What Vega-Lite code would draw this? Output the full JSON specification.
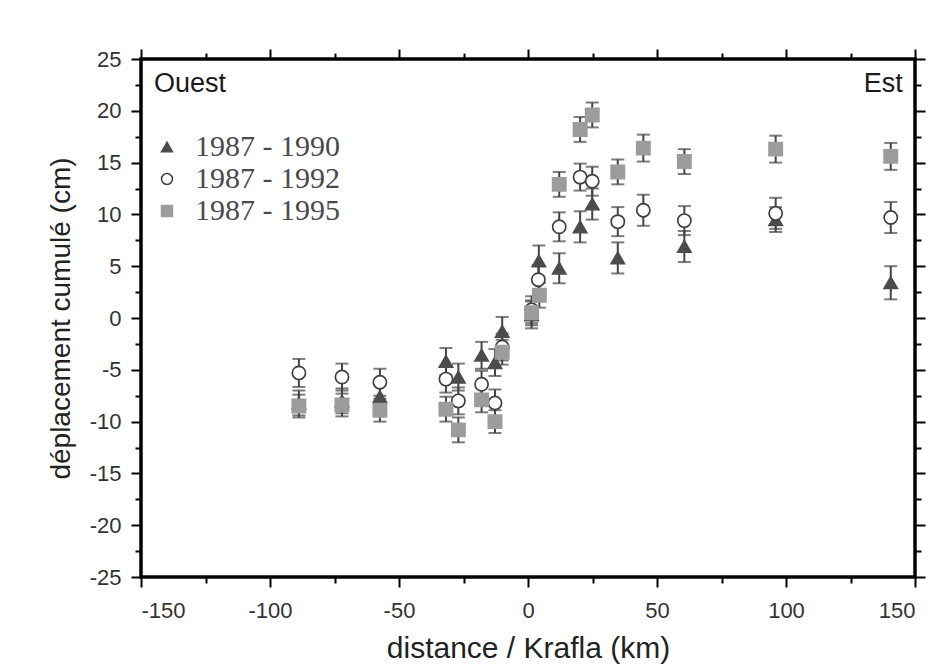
{
  "$schema": "https://vega.github.io/schema/vega-lite/v6.json",
  "width": 774,
  "height": 518,
  "autosize": {"type": "none"},
  "padding": {"left": 141, "top": 59, "right": 26, "bottom": 91},
  "background": "white",
  "config": {
    "view": {"stroke": "black", "strokeWidth": 3.5},
    "axis": {"grid": false, "domain": false, "tickColor": "black", "tickWidth": 2, "labelFont": "Liberation Sans", "labelFontSize": 22, "labelColor": "#333", "titleFont": "Liberation Sans", "titleFontSize": 28, "titleFontWeight": "normal", "titleColor": "#222"}
  },
  "datasets": {
    "pts": [
      {"d": -88.8, "s": "1987 - 1990", "v": -8.2, "e": 1.2},
      {"d": -72.1, "s": "1987 - 1990", "v": -8.0, "e": 1.2},
      {"d": -57.4, "s": "1987 - 1990", "v": -7.6, "e": 1.2},
      {"d": -31.8, "s": "1987 - 1990", "v": -4.2, "e": 1.3},
      {"d": -27.0, "s": "1987 - 1990", "v": -5.7, "e": 1.3},
      {"d": -18.0, "s": "1987 - 1990", "v": -3.6, "e": 1.3},
      {"d": -12.8, "s": "1987 - 1990", "v": -4.3, "e": 1.3},
      {"d": -10.0, "s": "1987 - 1990", "v": -1.3, "e": 1.4},
      {"d": 1.4, "s": "1987 - 1990", "v": 0.3, "e": 1.3},
      {"d": 4.2, "s": "1987 - 1990", "v": 5.5, "e": 1.5},
      {"d": 12.1, "s": "1987 - 1990", "v": 4.8, "e": 1.45},
      {"d": 20.2, "s": "1987 - 1990", "v": 8.8, "e": 1.5},
      {"d": 24.9, "s": "1987 - 1990", "v": 11.0, "e": 1.5},
      {"d": 34.8, "s": "1987 - 1990", "v": 5.8, "e": 1.5},
      {"d": 60.6, "s": "1987 - 1990", "v": 6.9, "e": 1.5},
      {"d": 96.0, "s": "1987 - 1990", "v": 9.5, "e": 1.2},
      {"d": 140.6, "s": "1987 - 1990", "v": 3.4, "e": 1.6},
      {"d": -88.8, "s": "1987 - 1992", "v": -5.3, "e": 1.35},
      {"d": -72.1, "s": "1987 - 1992", "v": -5.7, "e": 1.3},
      {"d": -57.4, "s": "1987 - 1992", "v": -6.2, "e": 1.3},
      {"d": -31.8, "s": "1987 - 1992", "v": -5.9, "e": 1.3},
      {"d": -27.0, "s": "1987 - 1992", "v": -8.0, "e": 1.3},
      {"d": -18.0, "s": "1987 - 1992", "v": -6.4, "e": 1.3},
      {"d": -12.8, "s": "1987 - 1992", "v": -8.2, "e": 1.3},
      {"d": -10.0, "s": "1987 - 1992", "v": -2.8, "e": 1.3},
      {"d": 1.4, "s": "1987 - 1992", "v": 0.8, "e": 1.3},
      {"d": 4.0, "s": "1987 - 1992", "v": 3.7, "e": 1.4},
      {"d": 12.1, "s": "1987 - 1992", "v": 8.8, "e": 1.4},
      {"d": 20.2, "s": "1987 - 1992", "v": 13.6, "e": 1.3},
      {"d": 24.9, "s": "1987 - 1992", "v": 13.2, "e": 1.4},
      {"d": 34.8, "s": "1987 - 1992", "v": 9.3, "e": 1.4},
      {"d": 44.7, "s": "1987 - 1992", "v": 10.4, "e": 1.5},
      {"d": 60.6, "s": "1987 - 1992", "v": 9.4, "e": 1.4},
      {"d": 96.0, "s": "1987 - 1992", "v": 10.1, "e": 1.5},
      {"d": 140.6, "s": "1987 - 1992", "v": 9.7, "e": 1.5},
      {"d": -88.8, "s": "1987 - 1995", "v": -8.5, "e": 1.1},
      {"d": -72.1, "s": "1987 - 1995", "v": -8.4, "e": 1.1},
      {"d": -57.4, "s": "1987 - 1995", "v": -8.9, "e": 1.1},
      {"d": -31.8, "s": "1987 - 1995", "v": -8.8, "e": 1.2},
      {"d": -27.0, "s": "1987 - 1995", "v": -10.8, "e": 1.2},
      {"d": -18.0, "s": "1987 - 1995", "v": -7.9, "e": 1.2},
      {"d": -12.8, "s": "1987 - 1995", "v": -10.0, "e": 1.1},
      {"d": -10.0, "s": "1987 - 1995", "v": -3.3, "e": 1.2},
      {"d": 1.4, "s": "1987 - 1995", "v": 0.5, "e": 1.2},
      {"d": 4.4, "s": "1987 - 1995", "v": 2.2, "e": 1.2},
      {"d": 12.1, "s": "1987 - 1995", "v": 12.9, "e": 1.2},
      {"d": 20.2, "s": "1987 - 1995", "v": 18.2, "e": 1.2},
      {"d": 24.9, "s": "1987 - 1995", "v": 19.6, "e": 1.2},
      {"d": 34.8, "s": "1987 - 1995", "v": 14.1, "e": 1.2},
      {"d": 44.7, "s": "1987 - 1995", "v": 16.4, "e": 1.3},
      {"d": 60.6, "s": "1987 - 1995", "v": 15.1, "e": 1.2},
      {"d": 96.0, "s": "1987 - 1995", "v": 16.3, "e": 1.3},
      {"d": 140.6, "s": "1987 - 1995", "v": 15.6, "e": 1.3}
    ],
    "notes": [
      {"label": "Ouest", "d": -145, "v": 21.8, "side": "left"},
      {"label": "Est", "d": 145.3, "v": 21.8, "side": "right"}
    ]
  },
  "resolve": {"axis": {"x": "independent", "y": "independent"}},
  "layer": [
    {
      "data": {"name": "pts"},
      "mark": {"type": "errorbar", "ticks": {"size": 13, "thickness": 2, "color": "#444"}, "rule": {"strokeWidth": 2, "color": "#444"}},
      "encoding": {
        "x": {"field": "d", "type": "quantitative", "scale": {"domain": [-150, 150], "nice": false, "zero": false},
              "axis": {"orient": "bottom", "values": [-150, -100, -50, 0, 50, 100, 150], "labelExpr": "'' + datum.value", "tickSize": 10, "labelPadding": 13, "titlePadding": 12, "titleFontSize": 30, "title": "distance / Krafla (km)"}},
        "y": {"field": "v", "type": "quantitative", "scale": {"domain": [-25, 25], "nice": false, "zero": false},
              "axis": {"orient": "left", "values": [-25, -20, -15, -10, -5, 0, 5, 10, 15, 20, 25], "labelExpr": "'' + datum.value", "tickSize": 10, "labelPadding": 10, "titlePadding": 14, "title": "déplacement cumulé (cm)"}},
        "yError": {"field": "e"}
      }
    },
    {
      "data": {"name": "pts"},
      "mark": {"type": "point", "filled": false, "size": 175, "strokeWidth": 1.7, "opacity": 1},
      "encoding": {
        "x": {"field": "d", "type": "quantitative", "scale": {"domain": [-150, 150], "nice": false, "zero": false},
              "axis": {"orient": "bottom", "values": [-125, -75, -25, 25, 75, 125], "tickSize": 6, "labels": false, "title": null}},
        "y": {"field": "v", "type": "quantitative", "scale": {"domain": [-25, 25], "nice": false, "zero": false},
              "axis": {"orient": "left", "values": [-22.5, -17.5, -12.5, -7.5, -2.5, 2.5, 7.5, 12.5, 17.5, 22.5], "tickSize": 6, "labels": false, "title": null}},
        "shape": {"field": "s", "type": "nominal", "scale": {"domain": ["1987 - 1990", "1987 - 1992", "1987 - 1995"], "range": ["triangle-up", "circle", "square"]},
                  "legend": {"orient": "none", "legendX": 11, "legendY": 73, "title": null, "labelFont": "Liberation Serif", "labelFontSize": 30, "labelColor": "#4a4a4a", "symbolSize": 120, "symbolStrokeWidth": 1.5, "rowPadding": 2, "labelOffset": 13, "padding": 0}},
        "fill": {"field": "s", "type": "nominal", "scale": {"domain": ["1987 - 1990", "1987 - 1992", "1987 - 1995"], "range": ["#4c4c4c", "#ffffff", "#9c9c9c"]}},
        "stroke": {"field": "s", "type": "nominal", "scale": {"domain": ["1987 - 1990", "1987 - 1992", "1987 - 1995"], "range": ["#4c4c4c", "#404040", "#9c9c9c"]}}
      }
    },
    {
      "data": {"name": "notes"},
      "transform": [{"filter": "datum.side == 'left'"}],
      "mark": {"type": "text", "align": "left", "baseline": "alphabetic", "font": "Liberation Sans", "fontSize": 27, "color": "#1a1a1a"},
      "encoding": {
        "x": {"field": "d", "type": "quantitative", "scale": {"domain": [-150, 150], "nice": false, "zero": false},
              "axis": {"orient": "top", "values": [-150, -100, -50, 0, 50, 100, 150], "tickSize": 10, "labels": false, "title": null}},
        "y": {"field": "v", "type": "quantitative", "scale": {"domain": [-25, 25], "nice": false, "zero": false},
              "axis": {"orient": "right", "values": [-25, -20, -15, -10, -5, 0, 5, 10, 15, 20, 25], "tickSize": 10, "labels": false, "title": null}},
        "text": {"field": "label"}
      }
    },
    {
      "data": {"name": "notes"},
      "transform": [{"filter": "datum.side == 'right'"}],
      "mark": {"type": "text", "align": "right", "baseline": "alphabetic", "font": "Liberation Sans", "fontSize": 27, "color": "#1a1a1a"},
      "encoding": {
        "x": {"field": "d", "type": "quantitative", "scale": {"domain": [-150, 150], "nice": false, "zero": false},
              "axis": {"orient": "top", "values": [-125, -75, -25, 25, 75, 125], "tickSize": 6, "labels": false, "title": null}},
        "y": {"field": "v", "type": "quantitative", "scale": {"domain": [-25, 25], "nice": false, "zero": false},
              "axis": {"orient": "right", "values": [-22.5, -17.5, -12.5, -7.5, -2.5, 2.5, 7.5, 12.5, 17.5, 22.5], "tickSize": 6, "labels": false, "title": null}},
        "text": {"field": "label"}
      }
    }
  ]
}
